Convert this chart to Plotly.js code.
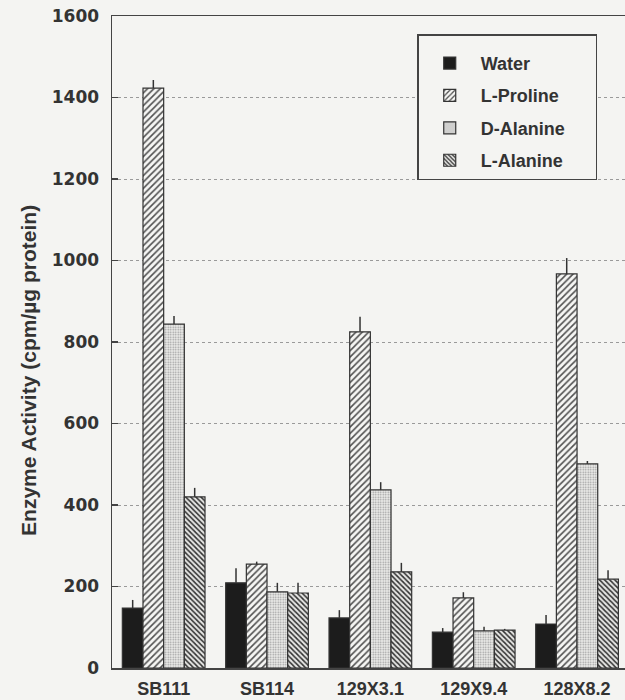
<!DOCTYPE html>
<html>
<head>
<meta charset="utf-8">
<script src="https://cdn.plot.ly/plotly-3.0.1.min.js"></script>
<style>html,body{margin:0;padding:0;background:#f4f4f2;}#chart{width:625px;height:700px;}</style>
</head>
<body>
<div id="chart"></div>
<script>
var strains = ["SB111", "SB114", "129X3.1", "129X9.4", "128X8.2"];
var seriesNames = ["Water", "L-Proline", "D-Alanine", "L-Alanine"];
var water = [147, 209, 123, 88, 108];
var waterErr = [20, 36, 19, 10, 22];
var lProline = [1423, 255, 825, 172, 967];
var lProlineErr = [20, 6, 37, 14, 39];
var dAlanine = [844, 187, 437, 91, 501];
var dAlanineErr = [20, 22, 19, 10, 7];
var lAlanine = [420, 184, 236, 93, 218];
var lAlanineErr = [22, 25, 22, 3, 22];
var yTicks = [0, 200, 400, 600, 800, 1000, 1200, 1400, 1600];
var yTitle = "Enzyme Activity (cpm/µg protein)";

var values = [water, lProline, dAlanine, lAlanine];
var errs = [waterErr, lProlineErr, dAlanineErr, lAlanineErr];
var zeros = [0, 0, 0, 0, 0];
var patterns = [
  {shape: "", fill: "#1c1c1c"},
  {shape: "/", fgcolor: "#505050", bgcolor: "#f6f6f4", size: 4.5, solidity: 0.35},
  {shape: ".", fgcolor: "#9a9a9a", bgcolor: "#eeeeec", size: 2.5, solidity: 0.35},
  {shape: "\\", fgcolor: "#333333", bgcolor: "#e6e6e4", size: 3.6, solidity: 0.45}
];
var pad = "\u00a0\u00a0\u00a0\u00a0\u00a0";

var traces = seriesNames.map(function (name, i) {
  var p = patterns[i];
  var marker = {line: {color: "#333333", width: 1.2}};
  if (p.shape === "") {
    marker.color = p.fill;
  } else {
    marker.color = p.bgcolor;
    marker.pattern = {shape: p.shape, fgcolor: p.fgcolor, bgcolor: p.bgcolor, size: p.size, solidity: p.solidity, fillmode: "replace"};
  }
  return {
    type: "bar",
    name: name + (i === 2 ? pad : ""),
    x: strains,
    y: values[i],
    legendgroup: "g" + i,
    marker: marker,
    error_y: {type: "data", symmetric: false, array: errs[i], arrayminus: zeros, color: "#333333", thickness: 1.5, width: 0}
  };
});

var layout = {
  width: 625,
  height: 700,
  margin: {l: 112, r: 0, t: 16, b: 32},
  paper_bgcolor: "#f4f4f2",
  plot_bgcolor: "#f4f4f2",
  barmode: "group",
  bargap: 0.2,
  bargroupgap: 0,
  showlegend: true,
  legend: {
    x: 0.595, y: 0.972, xanchor: "left", yanchor: "top",
    bgcolor: "#f4f4f2", bordercolor: "#444444", borderwidth: 1.5,
    font: {family: "Liberation Sans, Arial, sans-serif", size: 18, color: "#333333", weight: "bold"},
    title: {text: "\u00a0", font: {size: 7}},
    traceorder: "grouped", tracegroupgap: 6, itemwidth: 52
  },
  annotations: [{
    text: yTitle, xref: "paper", yref: "paper", x: -0.164, y: 0.457,
    xanchor: "center", yanchor: "middle", textangle: -90, showarrow: false,
    font: {family: "Liberation Sans, Arial, sans-serif", size: 21, color: "#333333", weight: "bold"}
  }],
  xaxis: {
    type: "category",
    range: [-0.5, 4.464],
    showline: true, linecolor: "#444444", linewidth: 1.5, mirror: true,
    ticks: "", showgrid: false, zeroline: false,
    ticklabelstandoff: 4,
    tickfont: {family: "Liberation Sans, Arial, sans-serif", size: 18, color: "#333333", weight: "bold"}
  },
  yaxis: {
    range: [0, 1600],
    tickvals: yTicks,
    ticktext: yTicks.map(String),
    showline: true, linecolor: "#444444", linewidth: 1.5,
    ticks: "inside", ticklen: 6, tickcolor: "#444444", tickwidth: 1.2,
    showgrid: true, gridcolor: "#9a9a9a", gridwidth: 1, griddash: "dot",
    zeroline: false,
    ticklabelstandoff: 8,
    tickfont: {family: "DejaVu Sans, sans-serif", size: 17, color: "#333333", weight: "bold"}
  }
};

Plotly.newPlot("chart", traces, layout, {displayModeBar: false, staticPlot: true});
</script>
</body>
</html>
